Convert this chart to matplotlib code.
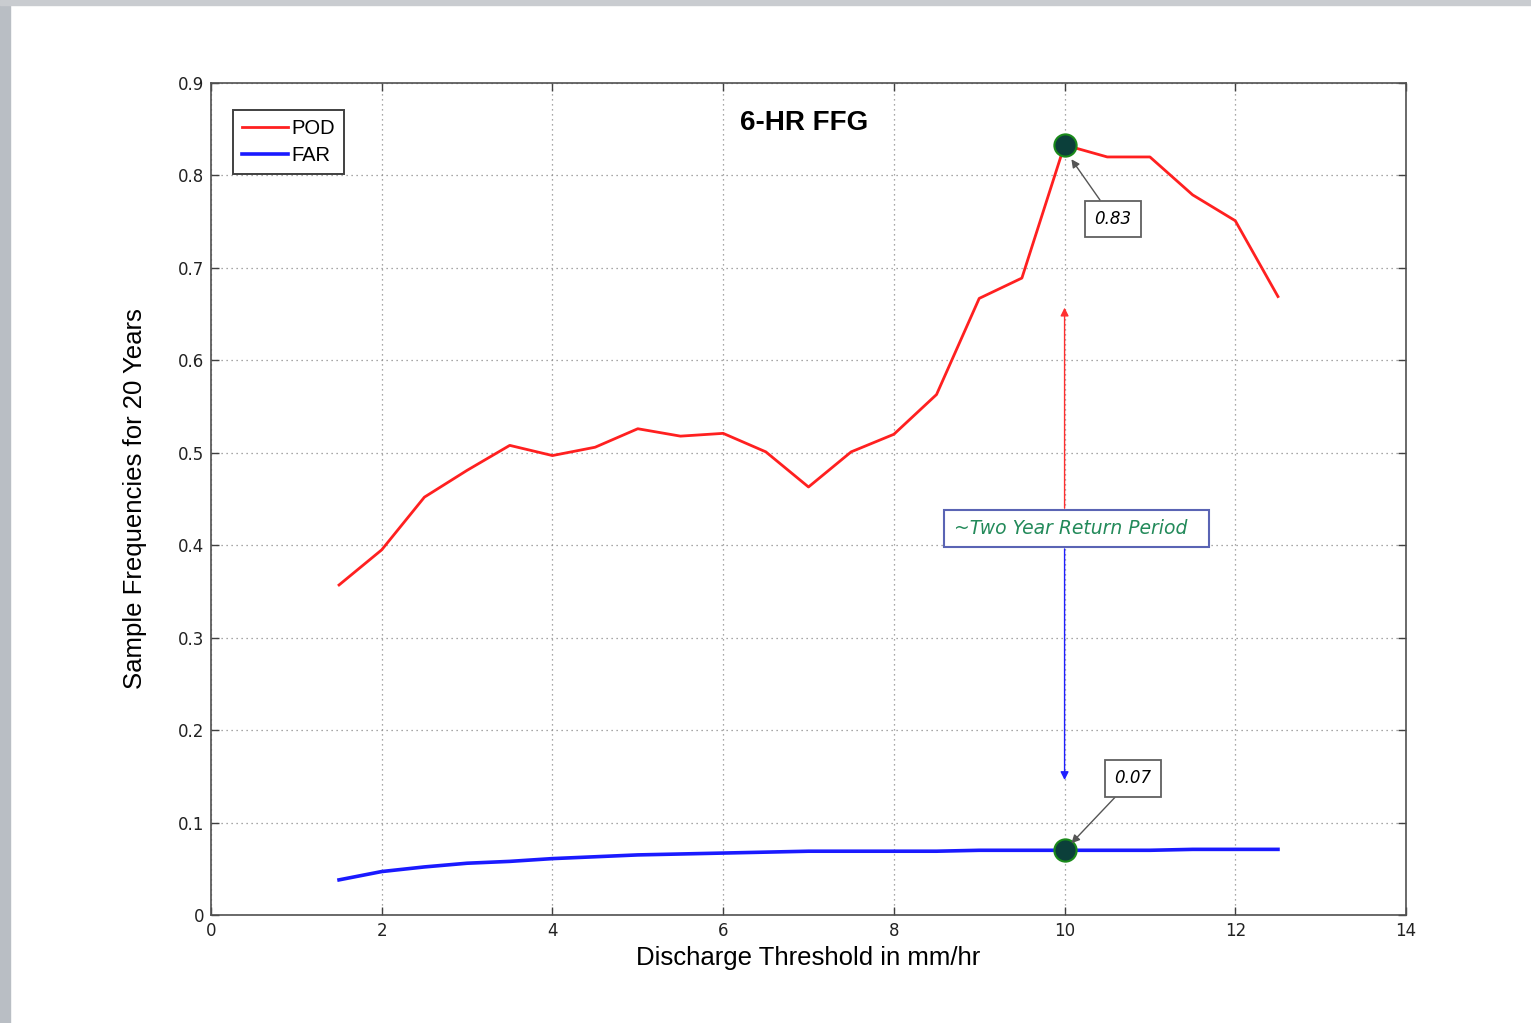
import matplotlib
matplotlib.use("Agg")
import matplotlib.pyplot as plt
from matplotlib.patches import Rectangle

# ---- data ----
threshold = [1.5, 2.0, 2.5, 3.0, 3.5, 4.0, 4.5, 5.0, 5.5, 6.0, 6.5, 7.0,
             7.5, 8.0, 8.5, 9.0, 9.5, 10.0, 10.5, 11.0, 11.5, 12.0, 12.5]
pod = [0.357, 0.395, 0.452, 0.481, 0.508, 0.497, 0.506, 0.526, 0.518, 0.521,
       0.501, 0.463, 0.501, 0.520, 0.563, 0.667, 0.689, 0.833, 0.820, 0.820,
       0.779, 0.751, 0.669]
far = [0.038, 0.047, 0.052, 0.056, 0.058, 0.061, 0.063, 0.065, 0.066, 0.067,
       0.068, 0.069, 0.069, 0.069, 0.069, 0.070, 0.070, 0.070, 0.070, 0.070,
       0.071, 0.071, 0.071]
xticks = [0, 2, 4, 6, 8, 10, 12, 14]
yticks = [0, 0.1, 0.2, 0.3, 0.4, 0.5, 0.6, 0.7, 0.8, 0.9]
ytick_labels = ["0", "0.1", "0.2", "0.3", "0.4", "0.5", "0.6", "0.7", "0.8", "0.9"]
pod_peak = (10.0, 0.833)
far_point = (10.0, 0.070)
return_period_x = 10.0

W, H = 1531, 1023
fig = plt.figure(figsize=(W / 100, H / 100), dpi=100)
fig.patch.set_facecolor("white")

# screenshot framing strips
fig.patches.append(Rectangle((0, 0), 10 / W, 1, transform=fig.transFigure,
                             color="#b9bec4", zorder=0))
fig.patches.append(Rectangle((0, 1 - 5 / H), 1, 5 / H, transform=fig.transFigure,
                             color="#c9ccd0", zorder=0))

ax = fig.add_axes([211 / W, 1 - 915 / H, (1406 - 211) / W, (915 - 83) / H])
ax.set_xlim(0, 14)
ax.set_ylim(0, 0.9)

ax.plot(threshold, pod, color="#ff2020", lw=2.0, label="POD", zorder=3)
ax.plot(threshold, far, color="#1a1aff", lw=2.6, label="FAR", zorder=3)

# highlighted points
ax.plot([pod_peak[0]], [pod_peak[1]], "o", ms=16, mfc="#0b3f3a", mec="#1a8a1a",
        mew=1.5, zorder=5)
ax.plot([far_point[0]], [far_point[1]], "o", ms=16, mfc="#0b3f3a", mec="#1a8a1a",
        mew=1.5, zorder=5)

# grid & ticks
ax.set_xticks(xticks)
ax.set_xticklabels([str(v) for v in xticks])
ax.set_yticks(yticks)
ax.set_yticklabels(ytick_labels)
ax.grid(True, linestyle=(0, (1, 3)), color="#8a8a8a", lw=0.9)
ax.tick_params(direction="in", length=6, width=1, color="#404040",
               labelsize=12, top=True, right=True, pad=5)
for lab in ax.get_xticklabels() + ax.get_yticklabels():
    lab.set_family("DejaVu Sans")
    lab.set_color("#222222")
for sp in ax.spines.values():
    sp.set_color("#505050")
    sp.set_linewidth(1.2)

ax.set_xlabel("Discharge Threshold in mm/hr", fontsize=18.5,
              family="Liberation Sans", labelpad=4)
ax.set_ylabel("Sample Frequencies for 20 Years", fontsize=18.5,
              family="Liberation Sans", labelpad=22)

ax.text(0.496, 0.9515, "6-HR FFG", transform=ax.transAxes, ha="center",
        va="center", fontsize=20, fontweight="bold", family="Liberation Sans")

leg = ax.legend(loc="upper left", bbox_to_anchor=(0.018, 0.968),
                prop={"family": "Liberation Sans", "size": 14.5},
                handlelength=2.3, handletextpad=0.15, labelspacing=0.42,
                borderpad=0.45, borderaxespad=0, fancybox=False, framealpha=1)
leg.get_frame().set_edgecolor("#404040")
leg.get_frame().set_linewidth(1.4)

# return period box and arrows
ax.annotate("", xy=(return_period_x, 0.657), xytext=(return_period_x, 0.440),
            arrowprops=dict(arrowstyle="-|>", color="#ff3030", lw=1.0,
                            mutation_scale=12, shrinkA=0, shrinkB=0), zorder=4)
ax.annotate("", xy=(return_period_x, 0.146), xytext=(return_period_x, 0.396),
            arrowprops=dict(arrowstyle="-|>", color="#2020ff", lw=1.0,
                            mutation_scale=12, shrinkA=0, shrinkB=0), zorder=4)
ax.text(10.14, 0.418, "~Two Year Return Period  ", ha="center", va="center",
        fontsize=13.5, style="italic", color="#238a5a", family="DejaVu Sans",
        bbox=dict(boxstyle="square,pad=0.5", fc="white", ec="#5a64b4", lw=1.5),
        zorder=6)

# value callouts
ax.annotate("0.83", xy=(10.08, 0.8175), xytext=(10.57, 0.753),
            ha="center", va="center", fontsize=12, style="italic",
            family="DejaVu Sans",
            bbox=dict(boxstyle="square,pad=0.55", fc="white", ec="#606060", lw=1.3),
            arrowprops=dict(arrowstyle="-|>", color="#555555", lw=1.0,
                            mutation_scale=12, shrinkA=0, shrinkB=0), zorder=6)
ax.annotate("0.07", xy=(10.08, 0.0776), xytext=(10.80, 0.1477),
            ha="center", va="center", fontsize=12, style="italic",
            family="DejaVu Sans",
            bbox=dict(boxstyle="square,pad=0.55", fc="white", ec="#606060", lw=1.3),
            arrowprops=dict(arrowstyle="-|>", color="#555555", lw=1.0,
                            mutation_scale=12, shrinkA=0, shrinkB=0), zorder=6)

fig.savefig("out.png", dpi=100)
